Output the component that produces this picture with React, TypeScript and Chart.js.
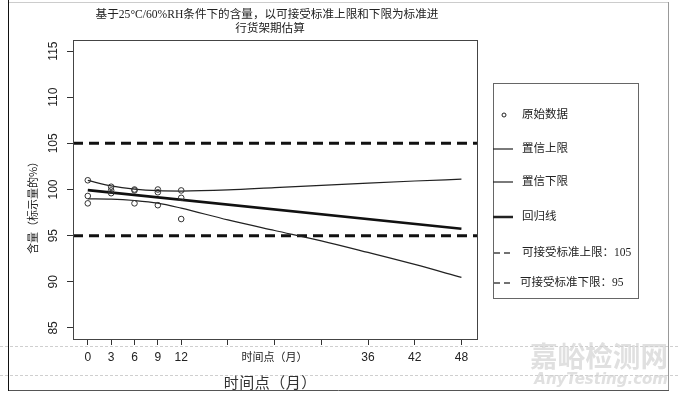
import React, { useEffect, useRef } from "react";
import { Chart, registerables } from "chart.js";

Chart.register(...registerables);

// ---------- data ----------
const rawMonths = [0, 0, 0, 3, 3, 3, 6, 6, 6, 9, 9, 9, 12, 12, 12];
const rawValues = [101.0, 99.3, 98.5, 100.3, 99.9, 99.6, 100.0, 99.9, 98.5, 100.0, 99.7, 98.3, 99.9, 99.1, 96.8];

const ciMonths = [0, 3, 6, 9, 12, 18, 24, 30, 36, 42, 48];
const upperCI = [100.98, 100.4, 100.05, 99.87, 99.83, 99.95, 100.2, 100.45, 100.7, 100.92, 101.12];
const lowerCI = [98.99, 98.96, 98.81, 98.53, 97.98, 96.7, 95.56, 94.44, 93.18, 91.88, 90.47];

const fitMonths = [0, 48];
const fitValues = [99.93, 95.74];

const upperLimit = 105;
const lowerLimit = 95;

const xMin = -1.9;
const xMax = 50;
const yMin = 83.8;
const yMax = 116.2;

const xTicks = [0, 3, 6, 9, 12, 18, 24, 30, 36, 42, 48];
const xTickLabels = ["0", "3", "6", "9", "12", "", "时间点（月）", "", "36", "42", "48"];
const yTicks = [85, 90, 95, 100, 105, 110, 115];

const titleLines = ["基于25°C/60%RH条件下的含量，以可接受标准上限和下限为标准进", "行货架期估算"];
const yTitle = "含量（标示量的%）";
const xTitle = "时间点（月）";
const legendLabels = ["原始数据", "置信上限", "置信下限", "回归线", "可接受标准上限：105", "可接受标准下限：95"];

const INK = "#222";
const CJK = '"Noto Sans CJK SC", sans-serif';
const MIX = '"Liberation Serif", "Noto Sans CJK SC", serif';

const decor = {
  id: "decor",
  beforeDraw(chart: any) {
    const ctx = chart.ctx;
    ctx.save();
    ctx.fillStyle = "#fff";
    ctx.fillRect(0, 0, chart.width, chart.height);
    ctx.restore();
  },
  afterDraw(chart: any) {
    const ctx = chart.ctx as CanvasRenderingContext2D;
    const a = chart.chartArea;
    const ys = chart.scales.y;
    ctx.save();

    // watermark
    ctx.fillStyle = "#e0e0e0";
    ctx.textAlign = "right";
    ctx.textBaseline = "middle";
    ctx.font = 'bold 28px "Noto Sans CJK SC", sans-serif';
    ctx.fillText("嘉峪检测网", 668, 356, 138);
    ctx.font = 'italic bold 15px "DejaVu Sans", sans-serif';
    ctx.fillText("AnyTesting.com", 668, 380, 138);

    // page separator dashed lines
    ctx.strokeStyle = "#cfcfcf";
    ctx.lineWidth = 1;
    ctx.setLineDash([3, 2]);
    [346.5, 375.5].forEach((y) => {
      ctx.beginPath();
      ctx.moveTo(0, y);
      ctx.lineTo(680, y);
      ctx.stroke();
    });
    ctx.setLineDash([]);

    // outer frame
    ctx.strokeStyle = "#cccccc";
    ctx.beginPath();
    ctx.moveTo(8, 2.5);
    ctx.lineTo(668, 2.5);
    ctx.stroke();
    ctx.strokeStyle = "#999";
    ctx.beginPath();
    ctx.moveTo(668.5, 2);
    ctx.lineTo(668.5, 390);
    ctx.stroke();
    ctx.strokeStyle = "#555";
    ctx.beginPath();
    ctx.moveTo(8, 390.5);
    ctx.lineTo(669, 390.5);
    ctx.stroke();
    ctx.strokeStyle = "#111";
    ctx.beginPath();
    ctx.moveTo(8.5, 0);
    ctx.lineTo(8.5, 391);
    ctx.stroke();

    // plot box
    ctx.strokeStyle = "#444";
    ctx.lineWidth = 1;
    ctx.strokeRect(Math.round(a.left) + 0.5, Math.round(a.top) + 0.5, Math.round(a.right - a.left), Math.round(a.bottom - a.top));

    // y tick labels (rotated)
    ctx.fillStyle = INK;
    ctx.font = '12px "Liberation Sans", Arial, sans-serif';
    ctx.textAlign = "center";
    ctx.textBaseline = "middle";
    yTicks.forEach((v) => {
      const py = ys.getPixelForValue(v);
      ctx.save();
      ctx.translate(54, py);
      ctx.rotate(-Math.PI / 2);
      ctx.fillText(String(v), 0, 0);
      ctx.restore();
    });

    // y title
    ctx.save();
    ctx.font = "11px " + CJK;
    ctx.translate(33, 205);
    ctx.rotate(-Math.PI / 2);
    ctx.fillText(yTitle, 0, 0);
    ctx.restore();

    // title
    ctx.font = "11.6px " + MIX;
    ctx.fillText(titleLines[0], 267, 15);
    ctx.fillText(titleLines[1], 270, 29);

    // x title
    ctx.font = "15px " + CJK;
    ctx.fillStyle = "#333";
    const chars = Array.from(xTitle);
    const step = 15.5;
    const start = 270 - (step * (chars.length - 1)) / 2;
    chars.forEach((c, i) => ctx.fillText(c, start + i * step, 382));

    // legend
    const lx = 493, ly = 83, lw = 145, lh = 215;
    ctx.strokeStyle = "#666";
    ctx.lineWidth = 1;
    ctx.strokeRect(lx + 0.5, ly + 0.5, lw, lh);
    const rows = [115, 149, 182, 217, 253, 283];
    ctx.fillStyle = INK;
    ctx.textAlign = "left";
    ctx.font = "11.5px " + MIX;
    legendLabels.forEach((lab, i) => {
      const y = rows[i];
      ctx.strokeStyle = "#222";
      ctx.setLineDash([]);
      if (i === 0) {
        ctx.lineWidth = 1;
        ctx.beginPath();
        ctx.arc(504, y, 2, 0, Math.PI * 2);
        ctx.stroke();
      } else if (i < 4) {
        ctx.lineWidth = i === 3 ? 2.5 : 1.2;
        ctx.beginPath();
        ctx.moveTo(lx, y);
        ctx.lineTo(lx + 20, y);
        ctx.stroke();
      } else {
        ctx.lineWidth = 1.3;
        ctx.strokeStyle = "#444";
        ctx.setLineDash([6, 4]);
        ctx.beginPath();
        ctx.moveTo(lx + 1, y);
        ctx.lineTo(lx + 20, y);
        ctx.stroke();
        ctx.setLineDash([]);
      }
      ctx.fillText(lab, i === 5 ? 520 : 522, y);
    });

    ctx.restore();
  },
};

export default function App() {
  const ref = useRef<HTMLCanvasElement | null>(null);

  useEffect(() => {
    if (!ref.current) return;
    const toPts = (xs: number[], vs: number[]) => xs.map((x, i) => ({ x, y: vs[i] }));
    const chart = new Chart(ref.current, {
      type: "line",
      data: {
        datasets: [
          {
            label: "原始数据",
            data: toPts(rawMonths, rawValues),
            showLine: false,
            pointStyle: "circle",
            pointRadius: 2.8,
            pointBorderWidth: 1,
            pointBorderColor: "#333",
            pointBackgroundColor: "rgba(255,255,255,0)",
            borderColor: "#333",
          },
          {
            label: "置信上限",
            data: toPts(ciMonths, upperCI),
            borderColor: "#222",
            borderWidth: 1.2,
            pointRadius: 0,
            cubicInterpolationMode: "monotone",
          },
          {
            label: "置信下限",
            data: toPts(ciMonths, lowerCI),
            borderColor: "#222",
            borderWidth: 1.2,
            pointRadius: 0,
            cubicInterpolationMode: "monotone",
          },
          {
            label: "回归线",
            data: toPts(fitMonths, fitValues),
            borderColor: "#111",
            borderWidth: 2.6,
            pointRadius: 0,
          },
          {
            label: "可接受标准上限",
            data: [{ x: xMin, y: upperLimit }, { x: xMax, y: upperLimit }],
            borderColor: "#111",
            borderWidth: 3,
            borderDash: [10, 6],
            pointRadius: 0,
          },
          {
            label: "可接受标准下限",
            data: [{ x: xMin, y: lowerLimit }, { x: xMax, y: lowerLimit }],
            borderColor: "#111",
            borderWidth: 3,
            borderDash: [10, 6],
            pointRadius: 0,
          },
        ],
      },
      options: {
        responsive: false,
        devicePixelRatio: 1,
        animation: false,
        events: [],
        layout: { padding: { left: 0, top: 40, right: 203, bottom: 0 } },
        plugins: {
          legend: { display: false },
          title: { display: false },
          tooltip: { enabled: false },
        },
        scales: {
          x: {
            type: "linear",
            min: xMin,
            max: xMax,
            afterBuildTicks: (s: any) => {
              s.ticks = xTicks.map((v) => ({ value: v }));
            },
            afterFit: (s: any) => {
              s.height = 59;
            },
            grid: {
              display: true,
              drawOnChartArea: false,
              drawTicks: true,
              tickLength: 6,
              tickColor: "#333",
              color: "#333",
            },
            border: { display: false },
            ticks: {
              autoSkip: false,
              maxRotation: 0,
              minRotation: 0,
              padding: 5,
              color: INK,
              font: (c: any) =>
                c.tick && c.tick.value === 24
                  ? { family: CJK, size: 11 }
                  : { family: '"Liberation Sans", Arial, sans-serif', size: 12 },
              callback: (v: any) => {
                const i = xTicks.indexOf(Number(v));
                return i >= 0 ? xTickLabels[i] : "";
              },
            },
          },
          y: {
            type: "linear",
            min: yMin,
            max: yMax,
            afterBuildTicks: (s: any) => {
              s.ticks = yTicks.map((v) => ({ value: v }));
            },
            afterFit: (s: any) => {
              s.width = 73;
            },
            grid: {
              display: true,
              drawOnChartArea: false,
              drawTicks: true,
              tickLength: 6,
              tickColor: "#333",
              color: "#333",
            },
            border: { display: false },
            ticks: { display: false },
          },
        },
      } as any,
      plugins: [decor],
    });
    return () => chart.destroy();
  }, []);

  return (
    <div style={{ position: "absolute", left: 0, top: 0, width: 680, height: 398, background: "#fff" }}>
      <canvas ref={ref} width={680} height={398} style={{ display: "block" }} />
    </div>
  );
}
